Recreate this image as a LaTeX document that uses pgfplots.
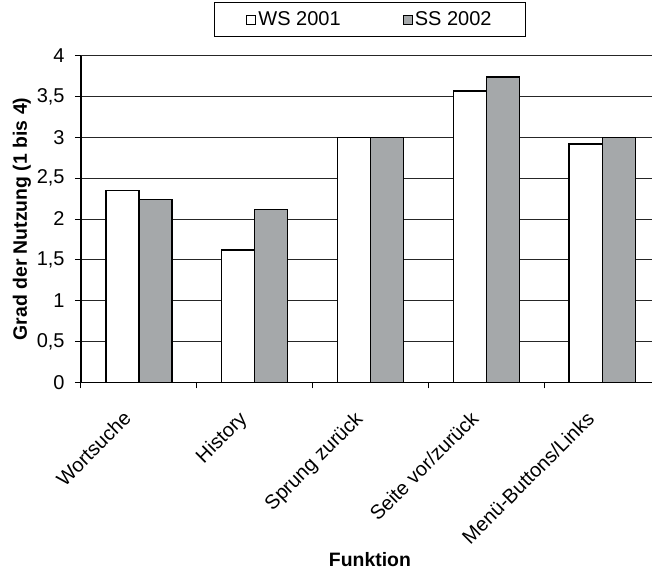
\documentclass[border=0pt]{standalone}
\usepackage{fontspec}
\setmainfont{Liberation Sans}
\usepackage{pgfplots}
\pgfplotsset{compat=1.18}
\definecolor{barg}{RGB}{165,168,170}
\pgfplotsset{sqlegend/.style={legend image code/.code={\draw[##1, line width=0.5pt] (0pt,-2.3pt) rectangle (4.6pt,2.3pt);}}}
\begin{document}
\fontsize{10}{12}\selectfont
\begin{tikzpicture}
\begin{axis}[
  scale only axis, width=285.5pt, height=163.3pt,
  xmin=-0.5, xmax=4.43, ymin=0, ymax=4,
  axis x line*=bottom, axis y line*=left,
  axis line style={-, line width=0.6pt, black},
  ybar=0pt, bar width=16.5pt,
  ytick={0,0.5,...,4},
  /pgf/number format/use comma, /pgf/number format/assume math mode=true,
  yticklabel style={inner sep=0pt, xshift=-5pt, font=\fontsize{10}{12}\selectfont},
  tick align=outside, major tick length=3pt,
  tick style={black, line width=0.5pt},
  ymajorgrids, grid style={black!85, line width=0.5pt},
  xtick={-0.5,0.5,1.5,2.5,3.5}, xticklabels={,,,,},
  extra x ticks={-0.147,0.853,1.853,2.853,3.853},
  extra x tick labels={Wortsuche,History,Sprung zurück,Seite vor/zurück,Menü-Buttons/Links},
  extra x tick style={major tick length=0pt, grid=none,
    xticklabel style={yshift=-13.5pt, rotate=45, anchor=north east, inner sep=0pt, font=\fontsize{10}{12}\selectfont}},
  every axis y label/.style={at={(axis description cs:0,0.5)}, xshift=-29.5pt, rotate=90, anchor=center, font=\fontsize{9.7}{12}\selectfont\bfseries},
  every axis x label/.style={at={(axis description cs:0.506,0)}, yshift=-88.85pt, anchor=center, font=\fontsize{9.7}{12}\selectfont\bfseries},
  ylabel={Grad der Nutzung (1 bis 4)},
  xlabel={Funktion},
  legend columns=2,
  legend style={at={(axis description cs:0.506,1)}, anchor=south, yshift=9.35pt,
    draw=black, line width=0.5pt, inner xsep=16pt, inner ysep=2.2pt,
    font=\fontsize{10}{12}\selectfont,
    nodes={inner xsep=1pt},
    /tikz/every even column/.append style={column sep=30pt}},
]
\addplot[draw=black, line width=0.7pt, fill=white, sqlegend]
  coordinates {(0,2.35) (1,1.62) (2,3.0) (3,3.57) (4,2.92)};
\addplot[draw=black, line width=0.7pt, fill=barg, sqlegend]
  coordinates {(0,2.24) (1,2.12) (2,3.0) (3,3.74) (4,3.0)};
\legend{WS 2001,SS 2002}
\end{axis}
\pgfresetboundingbox
\useasboundingbox (-40.5pt,-93.85pt) rectangle (285.5pt,191.15pt);
\end{tikzpicture}
\end{document}
